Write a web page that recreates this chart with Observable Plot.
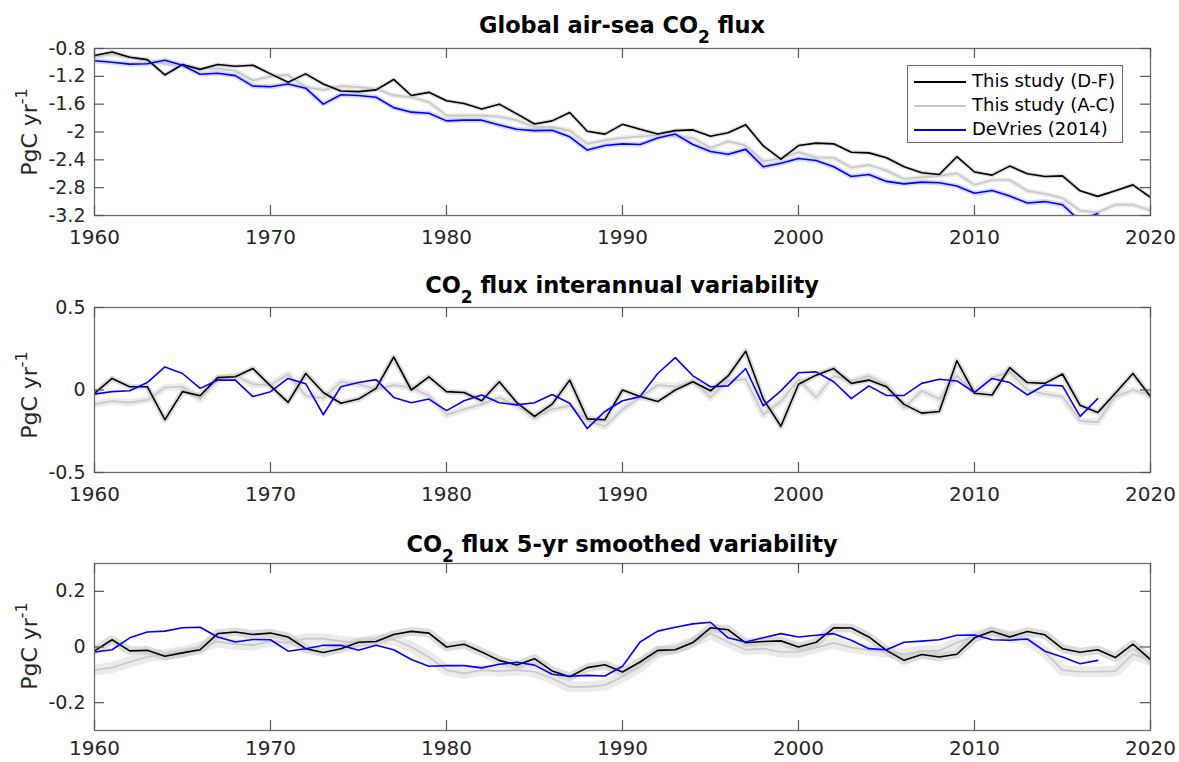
<!DOCTYPE html>
<html><head><meta charset="utf-8">
<script src="https://cdn.jsdelivr.net/npm/d3@7"></script>
<script src="https://cdn.jsdelivr.net/npm/@observablehq/plot@0.6"></script>
<style>
body{margin:0;background:#fff;font-family:"DejaVu Sans",sans-serif;}
#root{position:relative;width:1179px;height:762px;overflow:hidden;background:#fff;}
.panel{position:absolute;left:0;}
.title{position:absolute;left:94px;width:1056px;text-align:center;font-weight:bold;font-size:22.5px;color:#000;line-height:26px;}
.title sub{font-size:17px;vertical-align:-10px;line-height:0;}
.ylab{position:absolute;left:30px;white-space:nowrap;font-size:22px;color:#262626;transform:translate(-50%,-50%) rotate(-90deg);line-height:26px;}
.ylab sup{font-size:16px;vertical-align:10px;line-height:0;}
.legend{position:absolute;left:907px;top:65px;width:214px;height:76px;border:1px solid #6a6a6a;background:#fff;font-size:18px;color:#000;}
.legend div{position:absolute;left:0;height:24px;line-height:24px;white-space:nowrap;}
.legend span.sw{display:inline-block;width:52px;height:0;border-top:2px solid;vertical-align:middle;margin:0 6px 0 6px;}
</style>
</head><body><div id="root"></div>
<script>
const years = [1960,1961,1962,1963,1964,1965,1966,1967,1968,1969,1970,1971,1972,1973,1974,1975,1976,1977,1978,1979,1980,1981,1982,1983,1984,1985,1986,1987,1988,1989,1990,1991,1992,1993,1994,1995,1996,1997,1998,1999,2000,2001,2002,2003,2004,2005,2006,2007,2008,2009,2010,2011,2012,2013,2014,2015,2016,2017,2018,2019,2020];
const xTicks = [1960,1970,1980,1990,2000,2010,2020];
const xTickLabels = ["1960","1970","1980","1990","2000","2010","2020"];
const seriesNames = ["This study (D-F)","This study (A-C)","DeVries (2014)"];

// Panel 1: global air-sea CO2 flux (PgC/yr)
const fluxDF = [-0.90,-0.85,-0.925,-0.96,-1.18,-1.03,-1.10,-1.03,-1.055,-1.04,
 -1.165,-1.285,-1.165,-1.31,-1.41,-1.42,-1.395,-1.245,-1.475,-1.43,
 -1.55,-1.59,-1.67,-1.60,-1.74,-1.885,-1.84,-1.72,-1.99,-2.03,
 -1.89,-1.96,-2.03,-1.98,-1.97,-2.06,-2.01,-1.895,-2.20,-2.39,
 -2.195,-2.16,-2.17,-2.29,-2.30,-2.37,-2.50,-2.585,-2.61,-2.355,
 -2.575,-2.62,-2.49,-2.60,-2.64,-2.63,-2.845,-2.925,-2.845,-2.76,-2.94];
const fluxAC = [-0.92,-0.88,-0.93,-0.98,-1.02,-1.05,-1.09,-1.09,-1.12,-1.26,
 -1.20,-1.18,-1.355,-1.395,-1.34,-1.355,-1.38,-1.475,-1.50,-1.57,
 -1.765,-1.765,-1.765,-1.78,-1.83,-1.93,-1.93,-1.98,-2.17,-2.12,
 -2.085,-2.065,-2.04,-2.065,-2.085,-2.23,-2.135,-2.195,-2.42,-2.38,
 -2.29,-2.365,-2.37,-2.51,-2.475,-2.555,-2.675,-2.65,-2.63,-2.595,
 -2.76,-2.69,-2.69,-2.845,-2.89,-2.95,-3.13,-3.155,-3.045,-3.045,-3.13];
const fluxDV = [-0.977,-0.997,-1.025,-1.02,-0.97,-1.04,-1.17,-1.155,-1.19,-1.34,
 -1.35,-1.31,-1.37,-1.60,-1.465,-1.475,-1.50,-1.65,-1.715,-1.73,
 -1.84,-1.83,-1.83,-1.90,-1.96,-1.98,-1.975,-2.07,-2.26,-2.195,
 -2.17,-2.18,-2.085,-2.03,-2.18,-2.28,-2.32,-2.25,-2.50,-2.45,
 -2.38,-2.41,-2.50,-2.64,-2.61,-2.71,-2.745,-2.72,-2.73,-2.775,
 -2.88,-2.84,-2.92,-3.02,-3.00,-3.045,-3.28,-3.17];
const y1Ticks = [-0.8,-1.2,-1.6,-2,-2.4,-2.8,-3.2];
const y1TickLabels = ["-0.8","-1.2","-1.6","-2","-2.4","-2.8","-3.2"];

// Panel 2: interannual variability
const iavDF = [-0.02,0.07,0.02,0.02,-0.18,-0.01,-0.035,0.075,0.08,0.13,
 0.025,-0.075,0.10,-0.015,-0.08,-0.055,0.01,0.20,0.0,0.08,
 -0.01,-0.015,-0.065,0.05,-0.077,-0.16,-0.086,0.06,-0.175,-0.18,
 0.0,-0.04,-0.07,0.0,0.05,-0.005,0.085,0.235,-0.055,-0.22,
 0.035,0.09,0.13,0.04,0.06,0.02,-0.087,-0.14,-0.13,0.177,
 -0.02,-0.03,0.135,0.045,0.04,0.097,-0.093,-0.137,-0.02,0.10,-0.04];
const iavAC = [-0.087,-0.067,-0.077,-0.06,0.015,0.02,-0.055,0.065,0.086,0.035,
 0.03,0.095,-0.035,-0.05,0.05,0.035,0.005,0.03,0.015,-0.035,
 -0.15,-0.117,-0.087,-0.045,-0.095,-0.17,-0.117,-0.095,-0.187,-0.22,
 -0.117,-0.045,0.03,0.02,0.055,-0.045,0.055,0.065,-0.15,-0.07,
 0.065,-0.045,0.086,0.055,0.086,0.03,-0.107,-0.005,-0.055,0.086,
 -0.015,0.075,0.11,0.0,-0.025,-0.04,-0.187,-0.195,-0.04,0.0,-0.03];
const iavDV = [-0.025,-0.01,-0.005,0.045,0.14,0.10,0.01,0.06,0.06,-0.04,
 -0.01,0.07,0.038,-0.15,0.02,0.045,0.063,-0.045,-0.077,-0.055,
 -0.125,-0.065,-0.03,-0.077,-0.09,-0.077,-0.027,-0.08,-0.233,-0.13,
 -0.065,-0.04,0.10,0.196,0.086,0.02,0.025,0.13,-0.096,-0.005,
 0.105,0.11,0.05,-0.052,0.025,-0.033,-0.033,0.04,0.065,0.055,
 -0.015,0.07,0.045,-0.03,0.03,0.025,-0.16,-0.052];
const y2Ticks = [0.5,0,-0.5];
const y2TickLabels = ["0.5","0","-0.5"];

// Panel 3: 5-yr smoothed variability
const smDF = [-0.014,0.026,-0.014,-0.012,-0.033,-0.021,-0.01,0.048,0.054,0.045,
 0.05,0.036,-0.006,-0.02,-0.006,0.017,0.02,0.045,0.056,0.05,
 0.0,0.01,-0.018,-0.048,-0.065,-0.042,-0.086,-0.107,-0.074,-0.064,
 -0.09,-0.054,-0.012,-0.01,0.016,0.069,0.062,0.015,0.02,0.022,
 0.0,0.017,0.069,0.068,0.036,-0.012,-0.048,-0.027,-0.036,-0.026,
 0.033,0.057,0.036,0.056,0.044,-0.006,-0.019,-0.01,-0.038,0.01,-0.045];
const smAC = [-0.083,-0.074,-0.054,-0.036,-0.026,-0.018,0.0,0.019,0.01,0.007,
 0.021,0.015,0.03,0.03,0.021,0.015,0.026,0.027,0.0,-0.036,
 -0.083,-0.095,-0.083,-0.087,-0.083,-0.089,-0.113,-0.143,-0.143,-0.137,
 -0.107,-0.071,-0.018,-0.006,0.018,0.048,0.018,-0.01,-0.006,-0.018,
 -0.018,-0.002,0.015,-0.002,-0.01,-0.018,-0.026,-0.014,-0.014,0.015,
 0.039,0.054,0.039,0.026,-0.018,-0.083,-0.089,-0.089,-0.087,-0.026,-0.048];
const smDV = [-0.018,-0.01,0.033,0.054,0.057,0.069,0.071,0.036,0.018,0.027,
 0.026,-0.015,-0.006,0.006,0.006,-0.012,0.006,-0.01,-0.045,-0.069,
 -0.067,-0.067,-0.075,-0.062,-0.055,-0.065,-0.098,-0.105,-0.102,-0.104,
 -0.069,0.018,0.057,0.071,0.083,0.089,0.033,0.018,0.033,0.048,
 0.036,0.042,0.048,0.024,-0.006,-0.01,0.017,0.021,0.026,0.042,
 0.043,0.026,0.024,0.029,-0.015,-0.036,-0.06,-0.048];
const y3Ticks = [0.2,0,-0.2];
const y3TickLabels = ["0.2","0","-0.2"];

const root = document.getElementById("root");
const W = 1179, ML = 94, MR = 29, TICK = 10;
const PW = W - ML - MR;

function pts(vals){ return vals.map((v,i)=>({x: years[i], y: v})); }

function panel({top, height, mt, mb, domain, yTicks, yLabels, df, ac, dv, halo, blueHalo, xPad}) {
  const PH = height - mt - mb;
  const xl = new Map(xTicks.map((d,i)=>[d, xTickLabels[i]]));
  const yl = new Map(yTicks.map((d,i)=>[d, yLabels[i]]));
  const marks = [
    Plot.line(pts(ac), {x:"x", y:"y", stroke:"#e6e6e6", strokeWidth: halo, strokeOpacity:0.8, clip:true}),
    Plot.line(pts(df), {x:"x", y:"y", stroke:"#c4c4c4", strokeWidth: halo*0.8, strokeOpacity:0.6, clip:true}),
  ];
  if (blueHalo) marks.push(Plot.line(pts(dv), {x:"x", y:"y", stroke:"#b8c0ff", strokeWidth: 5, strokeOpacity:0.6, clip:true}));
  marks.push(
    Plot.line(pts(ac), {x:"x", y:"y", stroke:"#c8c8c8", strokeWidth:1.7, clip:true}),
    Plot.line(pts(df), {x:"x", y:"y", stroke:"#000000", strokeWidth:1.6, clip:true}),
    Plot.line(pts(dv), {x:"x", y:"y", stroke:"#0000ff", strokeWidth:1.6, clip:true}),
    Plot.frame({stroke:"#6e6e6e", strokeWidth:1.3}),
    Plot.tickX(xTicks, {x:d=>d, insetTop: PH - TICK, stroke:"#555", strokeWidth:1.2}),
    Plot.tickX(xTicks, {x:d=>d, insetBottom: PH - TICK, stroke:"#555", strokeWidth:1.2}),
    Plot.tickY(yTicks, {y:d=>d, insetRight: PW - TICK, stroke:"#555", strokeWidth:1.2}),
    Plot.tickY(yTicks, {y:d=>d, insetLeft: PW - TICK, stroke:"#555", strokeWidth:1.2}),
    Plot.axisX(xTicks, {tickSize:0, tickPadding:xPad, tickFormat:d=>xl.get(d), fill:"#262626", fontSize:20, label:null}),
    Plot.axisY(yTicks, {tickSize:0, tickPadding:9, tickFormat:d=>yl.get(d), fill:"#262626", fontSize:19, label:null})
  );
  const chart = Plot.plot({
    width: W, height, marginLeft: ML, marginRight: MR, marginTop: mt, marginBottom: mb,
    x: {domain:[1960,2020]},
    y: {domain},
    style: {fontFamily:"DejaVu Sans", fontSize:"19px", background:"transparent", color:"#262626", overflow:"visible"},
    marks
  });
  chart.classList.add("panel");
  chart.style.top = top + "px";
  root.appendChild(chart);
}

panel({top:0, height:250, mt:48, mb:35, domain:[-3.2,-0.8], yTicks:y1Ticks, yLabels:y1TickLabels, df:fluxDF, ac:fluxAC, dv:fluxDV, halo:5, blueHalo:true, xPad:14});
panel({top:260, height:250, mt:47, mb:38, domain:[-0.5,0.5], yTicks:y2Ticks, yLabels:y2TickLabels, df:iavDF, ac:iavAC, dv:iavDV, halo:7, blueHalo:false, xPad:14});
panel({top:515, height:247, mt:48, mb:32, domain:[-0.3,0.3], yTicks:y3Ticks, yLabels:y3TickLabels, df:smDF, ac:smAC, dv:smDV, halo:11, blueHalo:false, xPad:10});

function addHTML(html){ const d=document.createElement("div"); d.innerHTML=html; while(d.firstChild) root.appendChild(d.firstChild); }
addHTML(`<div class="title" style="top:12px">Global air-sea CO<sub>2</sub> flux</div>`);
addHTML(`<div class="title" style="top:272px">CO<sub>2</sub> flux interannual variability</div>`);
addHTML(`<div class="title" style="top:531px">CO<sub>2</sub> flux 5-yr smoothed variability</div>`);
for (const c of [132, 395, 646]) addHTML(`<div class="ylab" style="top:${c}px">PgC yr<sup>-1</sup></div>`);
const colors = ["#000000","#c8c8c8","#0000ff"];
addHTML(`<div class="legend">${seriesNames.map((n,i)=>`<div style="top:${3+i*24}px"><span class="sw" style="border-color:${colors[i]}"></span>${n}</div>`).join("")}</div>`);
</script>
</body></html>
